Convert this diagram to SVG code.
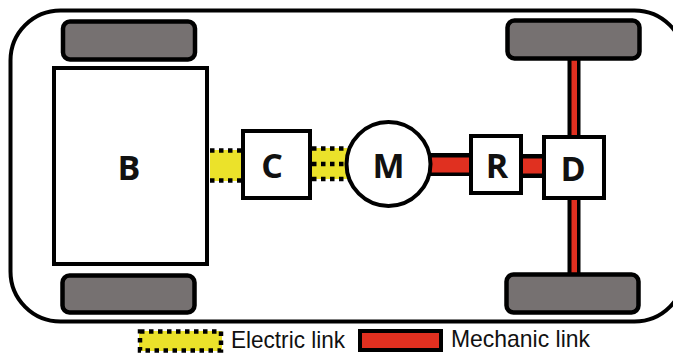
<svg xmlns="http://www.w3.org/2000/svg" width="673" height="353" viewBox="0 0 673 353">
<style>
.box{fill:#fff;stroke:#000;stroke-width:4}
.tire{fill:#767171;stroke:#000;stroke-width:4.5}
.lab{font-family:"Open Sans","Noto Sans",sans-serif;font-weight:700;font-size:34px;fill:#111;text-anchor:middle}
.leg{font-family:"Liberation Sans",Arial,sans-serif;font-size:24px;fill:#111}
.dot{stroke:#000;stroke-width:4.5;stroke-dasharray:4.5 4.5;fill:none}
.y{fill:#ebe22a}
.r{fill:#e03020}
</style>
<rect width="673" height="353" fill="#fff"/>
<g id="body"><rect x="10.5" y="10.5" width="674" height="311" rx="50" fill="#fff" stroke="#000" stroke-width="4"/></g>
<g id="connectors">
<rect class="y" x="210" y="150" width="32" height="31"/>
<path class="dot" d="M210 150.500H242M210 180.500H242"/>
<rect class="y" x="311" y="148" width="38" height="31"/>
<path class="dot" d="M312 148.500H349M312 164H349M312 179H349"/>
<rect x="430" y="153" width="42" height="23" fill="#000"/>
<rect class="r" x="430" y="157.500" width="40" height="15"/>
<rect x="520" y="154" width="24" height="24" fill="#000"/>
<rect class="r" x="521" y="158.500" width="22" height="15"/>
<rect x="567.500" y="58" width="13" height="216" fill="#000"/>
<rect class="r" x="571.500" y="58" width="5.500" height="216"/>
</g>
<g id="tire-tl"><rect class="tire" x="63" y="21.500" width="132" height="38" rx="7"/></g>
<g id="tire-tr"><rect class="tire" x="507.500" y="20.500" width="132" height="38" rx="7"/></g>
<g id="tire-bl"><rect class="tire" x="62.500" y="275.500" width="132" height="37" rx="7"/></g>
<g id="tire-br"><rect class="tire" x="506.500" y="274.500" width="132" height="38" rx="7"/></g>
<g id="B"><rect class="box" x="54" y="68" width="153" height="196"/><text class="lab" x="129" y="180">B</text></g>
<g id="C"><rect class="box" x="243" y="131" width="67" height="67"/><text class="lab" x="272" y="178">C</text></g>
<g id="M"><circle class="box" cx="388.500" cy="164" r="42"/><text class="lab" x="388.500" y="178">M</text></g>
<g id="R"><rect class="box" x="471" y="136" width="50" height="57" stroke-width="3.500"/><text class="lab" x="497" y="178">R</text></g>
<g id="D"><rect class="box" x="544" y="137" width="60" height="61"/><text class="lab" x="573" y="181">D</text></g>
<g id="legend-electric">
<rect class="y" x="139" y="331" width="83" height="20"/>
<rect class="dot" x="140" y="331.500" width="81" height="19"/>
<text class="leg" x="231" y="348" textLength="114" lengthAdjust="spacingAndGlyphs">Electric link</text>
</g>
<g id="legend-mechanic">
<rect class="r" x="360" y="331" width="81" height="19" stroke="#000" stroke-width="4"/>
<text class="leg" x="451" y="347" textLength="139" lengthAdjust="spacingAndGlyphs">Mechanic link</text>
</g>
</svg>
